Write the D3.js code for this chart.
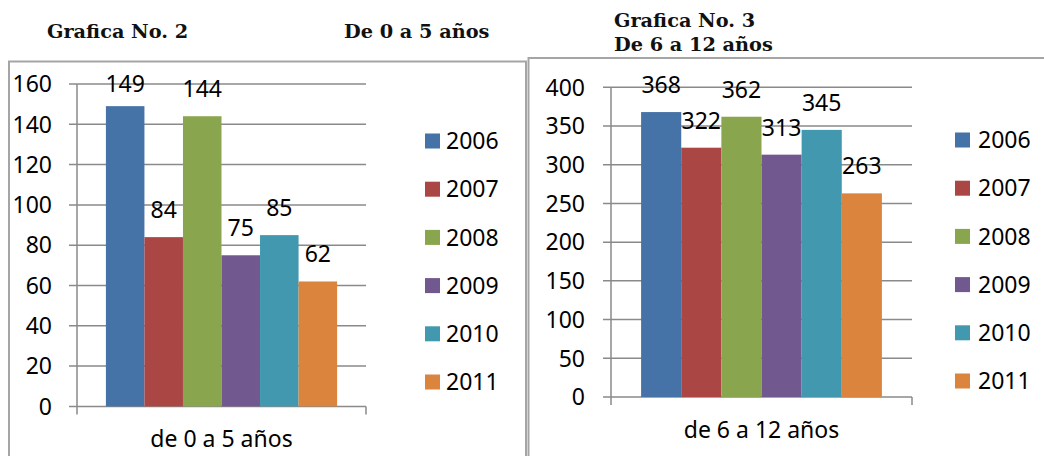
<!DOCTYPE html>
<html>
<head>
<meta charset="utf-8">
<script src="https://d3js.org/d3.v7.min.js"></script>
<style>
html,body{margin:0;padding:0;background:#fff;}
svg{display:block;}
</style>
</head>
<body>
<svg id="chart" width="1044" height="456"></svg>
<script>
const years = ["2006","2007","2008","2009","2010","2011"];
const colors = ["#4572A7","#AA4643","#89A54E","#71588F","#4198AF","#DB843D"];
const category1 = ["de 0 a 5 años"];
const values1 = [149, 84, 144, 75, 85, 62];
const ticks1 = [0,20,40,60,80,100,120,140,160];
const category2 = ["de 6 a 12 años"];
const values2 = [368, 322, 362, 313, 345, 263];
const ticks2 = [0,50,100,150,200,250,300,350,400];
const titles1 = ["Grafica No. 2", "De 0 a 5 años"];
const titles2 = ["Grafica No. 3", "De 6 a 12 años"];

const svg = d3.select("#chart");
const FONT = "'Noto Sans', 'Open Sans', sans-serif";
const SERIF = "'DejaVu Serif', 'Liberation Serif', serif";
const grid = "#8a8a8a";
const TSIZE = 19.3;

// frames
svg.append("rect").attr("x",9).attr("y",61.5).attr("width",517).attr("height",420)
  .attr("fill","none").attr("stroke","#a5a5a5").attr("stroke-width",2);
svg.append("rect").attr("x",528.5).attr("y",58).attr("width",540).attr("height",420)
  .attr("fill","none").attr("stroke","#a5a5a5").attr("stroke-width",2);

// titles
function title(x, y, t){
  svg.append("text").attr("x",x).attr("y",y).text(t)
    .attr("font-family",SERIF).attr("font-weight","bold").attr("font-size",TSIZE).attr("fill","#111");
}
title(47, 38, titles1[0]);
title(344, 38, titles1[1]);
title(614, 26.5, titles2[0]);
title(614, 51, titles2[1]);

function drawChart(cfg){
  const g = svg.append("g");
  const y = d3.scaleLinear().domain([cfg.ticks[0], cfg.ticks[cfg.ticks.length-1]]).range([cfg.y0, cfg.yTop]);
  const xc = d3.scaleBand().domain(cfg.category).range([cfg.x0, cfg.x1]);
  // Excel gap width 150%: outer gaps of 0.75 bar each side
  const barW = (cfg.x1 - cfg.x0) / (cfg.values.length + 1.5);
  const xs = d3.scaleBand().domain(cfg.years).range([cfg.x0 + 0.75*barW, cfg.x1 - 0.75*barW]).padding(0);

  // gridlines
  g.selectAll("line.grid").data(cfg.ticks).join("line")
    .attr("x1", cfg.x0 - 8).attr("x2", cfg.x1)
    .attr("y1", d=>y(d)).attr("y2", d=>y(d))
    .attr("stroke", grid).attr("stroke-width",1.5);
  // y axis line
  g.append("line").attr("x1",cfg.x0).attr("x2",cfg.x0).attr("y1",y(cfg.ticks[cfg.ticks.length-1])).attr("y2",cfg.y0+8)
    .attr("stroke",grid).attr("stroke-width",1.5);
  // x axis right tick
  g.append("line").attr("x1",cfg.x1).attr("x2",cfg.x1).attr("y1",cfg.y0).attr("y2",cfg.y0+8)
    .attr("stroke",grid).attr("stroke-width",1.5);
  // tick labels
  g.selectAll("text.tick").data(cfg.ticks).join("text")
    .attr("x", cfg.labelX).attr("y", d=>y(d)).attr("dy","0.36em")
    .attr("text-anchor","end").attr("font-family",FONT).attr("font-size",23).attr("fill","#000")
    .text(d=>d);
  // bars
  g.selectAll("rect.bar").data(cfg.values).join("rect")
    .attr("x",(d,i)=>xs(cfg.years[i])).attr("width",xs.bandwidth())
    .attr("y",d=>y(d)).attr("height",d=>cfg.y0 - y(d))
    .attr("fill",(d,i)=>colors[i]);
  // data labels
  g.selectAll("text.val").data(cfg.values).join("text")
    .attr("x",(d,i)=>xs(cfg.years[i]) + xs.bandwidth()/2)
    .attr("y",d=>Math.max(y(d) - 19, cfg.minLabelY))
    .attr("text-anchor","middle").attr("font-family",FONT).attr("font-size",23).attr("fill","#000")
    .text(d=>d);
  // category label
  g.append("text").attr("x", xc(cfg.category[0]) + xc.bandwidth()/2).attr("y", cfg.catY)
    .attr("text-anchor","middle").attr("font-family",FONT).attr("font-size",23).attr("fill","#000")
    .text(cfg.category[0]);
  // legend
  const lg = g.selectAll("g.leg").data(cfg.years).join("g")
    .attr("transform",(d,i)=>`translate(${cfg.legX},${cfg.legY + i*48.2})`);
  lg.append("rect").attr("x",0).attr("y",-7.5).attr("width",15).attr("height",15).attr("fill",(d,i)=>colors[i]);
  lg.append("text").attr("x",cfg.legTextDx).attr("y",0).attr("dy","0.36em")
    .attr("font-family",FONT).attr("font-size",23).attr("fill","#000").text(d=>d);
}

drawChart({category:category1, values:values1, years:years, ticks:ticks1,
  x0:77, x1:366, y0:406.4, yTop:84, labelX:52, minLabelY:92, catY:447,
  legX:425, legY:141, legTextDx:21});
drawChart({category:category2, values:values2, years:years, ticks:ticks2,
  x0:611, x1:912, y0:397, yTop:87.3, labelX:585, minLabelY:92, catY:438,
  legX:955, legY:140, legTextDx:23});
</script>
</body>
</html>
